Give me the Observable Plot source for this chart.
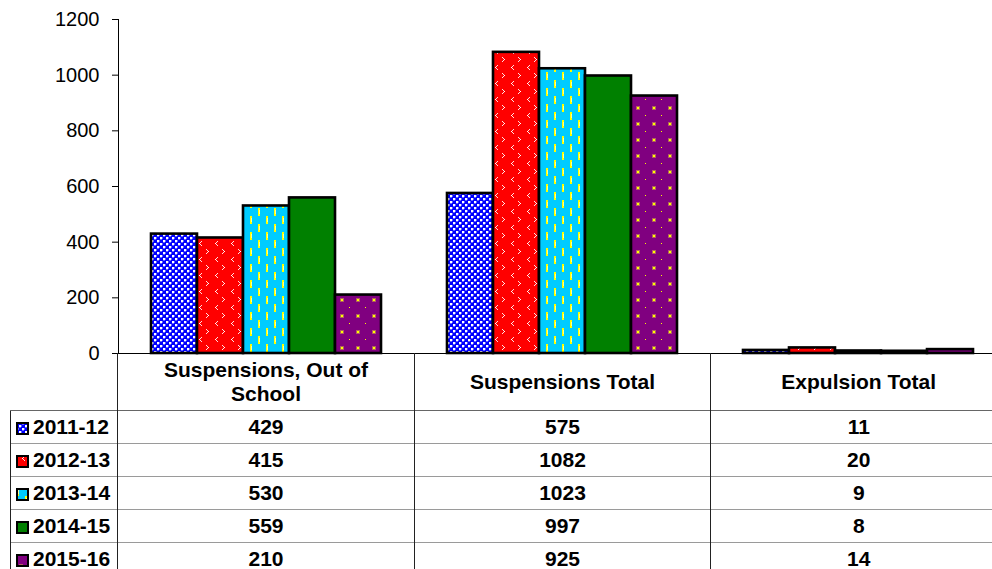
<!DOCTYPE html>
<html>
<head>
<meta charset="utf-8">
<script src="https://cdn.jsdelivr.net/npm/d3@7"></script>
<script src="https://cdn.jsdelivr.net/npm/@observablehq/plot@0.6"></script>
<style>
  html, body { margin: 0; padding: 0; background: #fff; overflow: hidden; }
  #wrap { position: relative; width: 992px; height: 569px; overflow: hidden; background: #fff;
          font-family: Arial, "Liberation Sans", sans-serif; }
  #chart { position: absolute; left: 0; top: 0; }
  table.dt { position: absolute; left: 10px; top: 353px; width: 996px; border-collapse: collapse; table-layout: fixed;
             font-family: Arial, "Liberation Sans", sans-serif; font-weight: bold; font-size: 21px; color: #000; }
  table.dt td { padding: 0; text-align: center; vertical-align: middle; white-space: nowrap; }
  table.dt tr.hdr td { height: 57px; line-height: 24px; white-space: normal; }
  table.dt tr.hdr td .w { display: inline-block; max-width: 230px; }
  table.dt tr.row td { height: 32px; border-top: 1px solid #9a9a9a; border-left: 1px solid #222; }
  table.dt tr.first td { border-top: 1px solid #666; }
  table.dt tr.hdr td.val { border-left: 1px solid #222; }
  table.dt td.key { text-align: left; padding-left: 5px; }
  table.dt td.key svg { vertical-align: -1px; margin-right: 4px; }
</style>
</head>
<body>
<div id="wrap">
  <div id="chart"></div>
</div>
<script>
// ---- data ----
const categories = ["Suspensions, Out of School", "Suspensions Total", "Expulsion Total"];
const years = ["2011-12", "2012-13", "2013-14", "2014-15", "2015-16"];
const v2011_12 = [429, 575, 11];
const v2012_13 = [415, 1082, 20];
const v2013_14 = [530, 1023, 9];
const v2014_15 = [559, 997, 8];
const v2015_16 = [210, 925, 14];
const yTicks = [0, 200, 400, 600, 800, 1000, 1200];

const seriesValues = [v2011_12, v2012_13, v2013_14, v2014_15, v2015_16];
const rows = [];
years.forEach((yr, i) => categories.forEach((c, j) => rows.push({cat: c, year: yr, value: seriesValues[i][j]})));

const patIds = ["pat0", "pat1", "pat2", "pat3", "pat4"];

const chart = Plot.plot({
  width: 1006,
  height: 356,
  marginLeft: 117,
  marginRight: 0,
  marginTop: 19,
  marginBottom: 3,
  style: {fontSize: "20px", fontFamily: "Arial, 'Liberation Sans', sans-serif", color: "#000", maxWidth: "none", background: "transparent", overflow: "visible"},
  fx: {domain: categories, paddingInner: 0, paddingOuter: 0, axis: null},
  x: {domain: years, paddingInner: 0, paddingOuter: 0.7, axis: null},
  y: {domain: [0, 1200], ticks: yTicks, tickSize: 6, tickPadding: 13, label: null, tickFormat: d => String(d)},
  color: {domain: years, range: patIds.map(id => `url(#${id})`)},
  marks: [
    Plot.barY(rows, {fx: "cat", x: "year", y: "value", fill: "year", stroke: "#000", strokeWidth: 2.6}),
    Plot.ruleY([0], {stroke: "#000", strokeWidth: 1}),
    Plot.frame({anchor: "left", facetAnchor: "left", stroke: "#000"})
  ]
});

// ---- fill patterns ----
const defs = d3.select(chart).insert("defs", ":first-child");
function pattern(id, w, h, bg, pts) {
  const p = defs.append("pattern").attr("id", id).attr("patternUnits", "userSpaceOnUse")
    .attr("width", w).attr("height", h);
  p.append("rect").attr("width", w).attr("height", h).attr("fill", bg);
  pts.forEach(([x, y, ww, hh, c]) => p.append("rect").attr("x", x).attr("y", y).attr("width", ww).attr("height", hh).attr("fill", c));
}
// 2011-12 blue lattice
pattern("pat0", 6, 6, "#0000ff", [
  [0, 0, 2, 2, "#ffffff"], [3, 3, 2, 2, "#ffffff"], [2, 0, 1, 2, "#6060ff"], [0, 2, 2, 1, "#6060ff"],
  [5, 3, 1, 2, "#6060ff"], [3, 5, 2, 1, "#6060ff"]
]);
// 2012-13 red with white chevrons  "<" and ">"
function chev(ox, oy, dir) {
  const xs = dir < 0 ? [2, 1, 0, 1, 2] : [0, 1, 2, 1, 0];
  return xs.map((dx, k) => [ox + dx, oy + k, 1, 1, k === 2 ? "#ffffff" : "#ffe0e0"]);
}
pattern("pat1", 16, 16, "#ff0000", [
  ...chev(6, 1, -1), ...chev(13, 9, 1)
]);
// 2013-14 cyan with yellow dashes
pattern("pat2", 16, 16, "#00ccff", [
  [1, 0, 2, 8, "#ffff00"], [9, 8, 2, 8, "#ffff00"], [2, 2, 1, 4, "#ffff99"], [10, 10, 1, 4, "#ffff99"]
]);
// 2014-15 solid green
pattern("pat3", 8, 8, "#008000", []);
// 2015-16 purple with yellow dots
pattern("pat4", 16, 16, "#800080", [
  [3, 10, 4, 4, "#b06060"], [4, 11, 2, 2, "#ffff00"], [12, 3, 1, 1, "#ffff00"]
]);

document.getElementById("chart").appendChild(chart);

// ---- data table ----
const table = d3.select("#wrap").append("table").attr("class", "dt");
const cg = table.append("colgroup");
[107, 297, 296, 296].forEach(w => cg.append("col").style("width", w + "px"));
const hdr = table.append("tr").attr("class", "hdr");
hdr.append("td");
categories.forEach(c => hdr.append("td").attr("class", "val").append("span").attr("class", "w").text(c));
years.forEach((yr, i) => {
  const tr = table.append("tr").attr("class", i === 0 ? "row first" : "row");
  const k = tr.append("td").attr("class", "key");
  const s = k.append("svg").attr("width", 13).attr("height", 13);
  s.append("rect").attr("x", 1).attr("y", 1).attr("width", 11).attr("height", 11)
    .attr("fill", `url(#${patIds[i]})`).attr("stroke", "#000").attr("stroke-width", 2);
  k.append("span").text(yr);
  seriesValues[i].forEach(v => tr.append("td").text(v));
});
</script>
</body>
</html>
